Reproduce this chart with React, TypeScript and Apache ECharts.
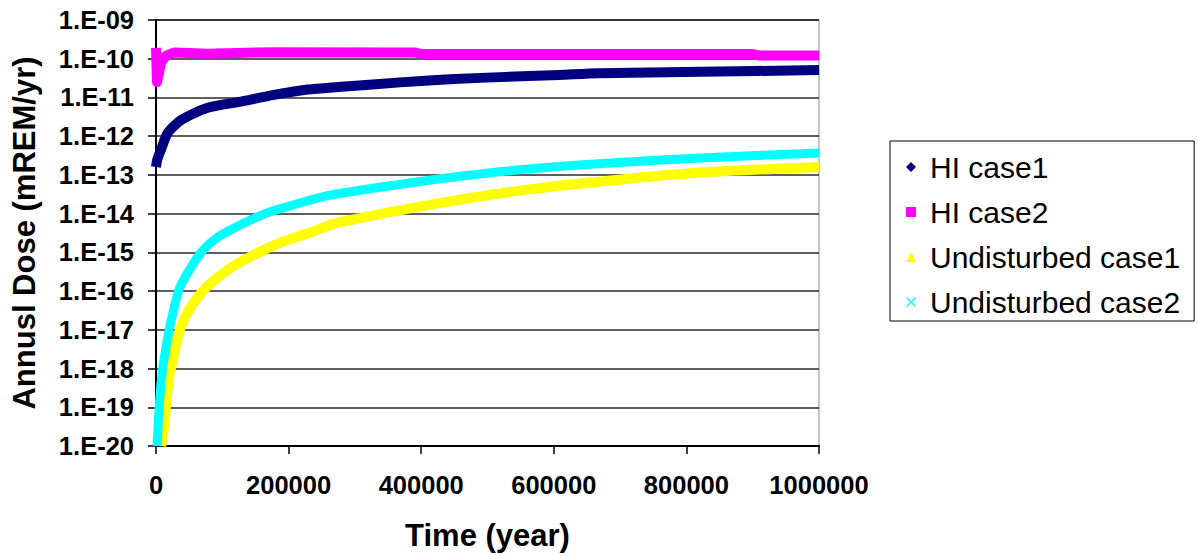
import React, { useEffect, useRef } from "react";
import * as echarts from "echarts";

// Time axis (years) for each curve and the annual dose (mREM/yr) read along it
const hiCase1Time = [0, 2000, 7500, 18000, 38000, 78000, 128000, 178000, 229000, 275000, 368000, 443000, 518000, 608000, 668000, 822000, 1000000];
const hiCase1Dose = [1.6e-13, 2.5e-13, 4.5e-13, 1.23e-12, 2.6e-12, 5.4e-12, 7.8e-12, 1.17e-11, 1.6e-11, 1.86e-11, 2.45e-11, 2.95e-11, 3.35e-11, 3.8e-11, 4.2e-11, 4.6e-11, 5.1e-11];

const hiCase2Time = [0, 1500, 8000, 15000, 27000, 78000, 180000, 390000, 400000, 900000, 910000, 1000000];
const hiCase2Dose = [1.9e-10, 2.5e-11, 8.3e-11, 1.18e-10, 1.45e-10, 1.35e-10, 1.48e-10, 1.45e-10, 1.33e-10, 1.32e-10, 1.22e-10, 1.22e-10];

const undisturbed1Time = [8000, 12000, 15000, 19600, 25600, 33200, 42200, 57300, 77000, 108600, 143000, 188500, 238000, 270000, 365000, 465000, 566000, 686000, 822000, 1000000];
const undisturbed1Dose = [1e-20, 3.2e-20, 1.07e-19, 6.3e-19, 1.7e-18, 6.8e-18, 1.86e-17, 5.1e-17, 1.3e-16, 3.6e-16, 7.8e-16, 1.8e-15, 3.5e-15, 5.6e-15, 1.2e-14, 2.4e-14, 4.3e-14, 7.2e-14, 1.15e-13, 1.6e-13];

const undisturbed2Time = [1500, 4000, 7000, 10000, 12000, 18000, 25600, 34700, 48000, 68000, 92000, 128000, 169000, 208000, 262000, 365000, 465000, 566000, 686000, 822000, 1000000];
const undisturbed2Dose = [1e-20, 6.3e-20, 3.2e-19, 1e-18, 1.7e-18, 6.8e-18, 2.8e-17, 1.1e-16, 3.0e-16, 1.0e-15, 2.4e-15, 5.2e-15, 1.07e-14, 1.7e-14, 3.0e-14, 5.6e-14, 9.5e-14, 1.45e-13, 2.04e-13, 2.75e-13, 3.7e-13];

const seriesNames = ["HI case1", "HI case2", "Undisturbed case1", "Undisturbed case2"];
const seriesColors = ["#000080", "#FF00FF", "#FFFF00", "#00FFFF"];
const crossIcon = "path://M0,1L1,0L5,4L9,0L10,1L6,5L10,9L9,10L5,6L1,10L0,9L4,5Z";
const legendIcons = ["diamond", "rect", "triangle", crossIcon];
// HI case2 has a sharp initial dip, so it stays straight-segmented
const seriesSmooth = [0.25, false, 0.25, 0.25];
const seriesWidths = [10, 10, 10, 9];

const xTicks = { min: 0, max: 1000000, step: 200000 };
const yTicks = { min: 1e-20, max: 1e-9 };

const FONT = '"Liberation Sans", Arial, sans-serif';

function pairs(t: number[], v: number[]) {
  return t.map((x, i) => [x, v[i]]);
}

export default function App() {
  const ref = useRef<HTMLDivElement>(null);

  useEffect(() => {
    if (!ref.current) return;
    const chart = echarts.init(ref.current, null, { renderer: "svg" });

    const data = [
      pairs(hiCase1Time, hiCase1Dose),
      pairs(hiCase2Time, hiCase2Dose),
      pairs(undisturbed1Time, undisturbed1Dose),
      pairs(undisturbed2Time, undisturbed2Dose),
    ];

    chart.setOption({
      animation: false,
      backgroundColor: "#ffffff",
      textStyle: { fontFamily: FONT },
      grid: {
        left: 156,
        right: 379,
        top: 20,
        bottom: 109,
        show: true,
        borderColor: "#8a8a8a",
        borderWidth: 1,
        backgroundColor: "transparent",
      },
      legend: {
        orient: "vertical",
        left: 890,
        top: 141,
        borderColor: "#000",
        borderWidth: 1,
        padding: [11, 14, 4, 16],
        itemGap: 15,
        itemWidth: 10,
        itemHeight: 10,
        textStyle: { fontFamily: FONT, fontSize: 30, color: "#000", padding: [0, 0, 0, 9] },
        data: seriesNames.map((n, i) => ({ name: n, icon: legendIcons[i] })),
      },
      xAxis: {
        type: "value",
        min: xTicks.min,
        max: xTicks.max,
        interval: xTicks.step,
        name: "Time (year)",
        nameLocation: "middle",
        nameGap: 74,
        nameTextStyle: { fontFamily: FONT, fontSize: 31, fontWeight: "bold", color: "#000" },
        axisLine: { show: true, lineStyle: { color: "#000", width: 2 } },
        axisTick: { show: true, inside: false, length: 8, lineStyle: { color: "#000", width: 1.5 } },
        axisLabel: {
          fontFamily: FONT,
          fontSize: 25.5,
          fontWeight: "bold",
          color: "#000",
          margin: 26,
          formatter: (v: number) => String(v),
        },
        splitLine: { show: false },
      },
      yAxis: {
        type: "log",
        logBase: 10,
        min: yTicks.min,
        max: yTicks.max,
        interval: 1,
        name: "Annusl Dose (mREM/yr)",
        nameLocation: "middle",
        nameRotate: 90,
        nameGap: 116,
        nameTextStyle: { fontFamily: FONT, fontSize: 31, fontWeight: "bold", color: "#000" },
        axisLine: { show: true, lineStyle: { color: "#000", width: 2 } },
        axisTick: { show: true, inside: false, length: 8, lineStyle: { color: "#000", width: 1.5 } },
        axisLabel: {
          fontFamily: FONT,
          fontSize: 25.5,
          fontWeight: "bold",
          color: "#000",
          margin: 22,
          formatter: (v: number) => {
            const e = Math.round(Math.log10(v));
            return "1.E-" + String(-e).padStart(2, "0");
          },
        },
        splitLine: { show: true, lineStyle: { color: "#2a2a2a", width: 1.5 } },
      },
      series: seriesNames.map((n, i) => ({
        name: n,
        type: "line",
        data: data[i],
        showSymbol: false,
        symbol: legendIcons[i],
        smooth: seriesSmooth[i],
        clip: false,
        itemStyle: { color: seriesColors[i] },
        lineStyle: { color: seriesColors[i], width: seriesWidths[i], join: "round" },
      })),
    });

    return () => chart.dispose();
  }, []);

  return (
    <div
      ref={ref}
      style={{ position: "fixed", left: 0, top: 0, width: 1198, height: 556 }}
    />
  );
}
